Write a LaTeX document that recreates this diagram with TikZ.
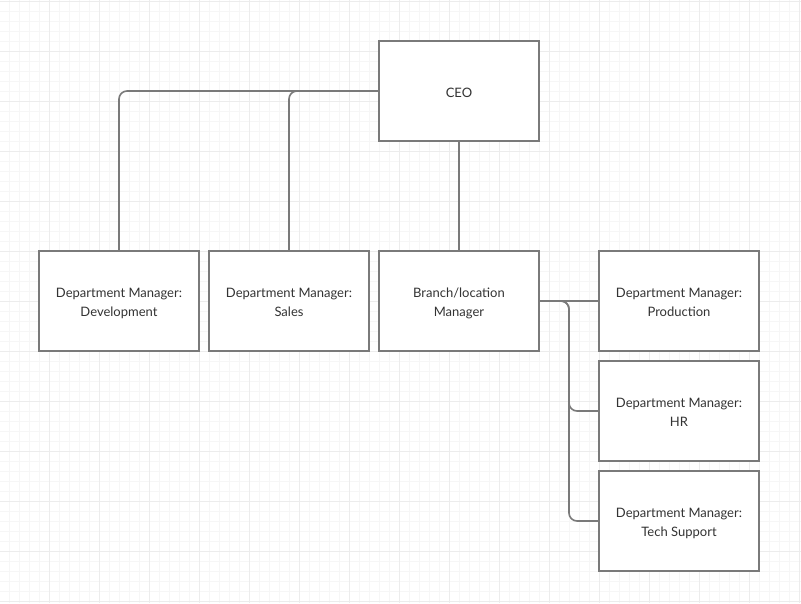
\documentclass[tikz,border=0pt]{standalone}
\usepackage{fontspec}
\setmainfont{Lato}
\definecolor{gridminor}{HTML}{F6F6F6}
\definecolor{gridmajor}{HTML}{ECECEC}
\definecolor{linec}{HTML}{7A7A7A}
\definecolor{textc}{HTML}{333333}
\newcommand\boxtext[1]{\raisebox{-2.5pt}[\height][\depth]{\begin{tabular}{@{}c@{}}#1\end{tabular}}}
\begin{document}
\begin{tikzpicture}[x=1pt,y=-1pt,
  box/.style={draw=linec,line width=1.6pt,fill=white,minimum width=160pt,minimum height=100pt,inner sep=0pt,font=\fontsize{13}{19}\selectfont,text=textc},
  conn/.style={draw=linec,line width=1.6pt,rounded corners=8pt}]
\useasboundingbox (0,0) rectangle (801,603);
\fill[white] (0,0) rectangle (801,603);
\foreach \i in {0,...,80} {\draw[gridminor,line width=0.8pt] (\i*10-1,0) -- (\i*10-1,603);}
\foreach \i in {0,...,60} {\draw[gridminor,line width=0.8pt] (0,\i*10+1) -- (801,\i*10+1);}
\foreach \i in {0,...,16} {\draw[gridmajor,line width=1pt] (\i*50-1,0) -- (\i*50-1,603);}
\foreach \i in {0,...,12} {\draw[gridmajor,line width=1pt] (0,\i*50+1) -- (801,\i*50+1);}
\node[box] (ceo) at (459,91) {\boxtext{CEO}};
\node[box] (dev) at (119,301) {\boxtext{Department Manager:\\Development}};
\node[box] (sales) at (289,301) {\boxtext{Department Manager:\\Sales}};
\node[box] (branch) at (459,301) {\boxtext{Branch/location\\Manager}};
\node[box] (prod) at (679,301) {\boxtext{Department Manager:\\Production}};
\node[box] (hr) at (679,411) {\boxtext{Department Manager:\\HR}};
\node[box] (tech) at (679,521) {\boxtext{Department Manager:\\Tech Support}};
\draw[conn] (ceo.west) -| (dev.north);
\draw[conn] (ceo.west) -| (sales.north);
\draw[conn] (ceo.south) -- (branch.north);
\draw[conn] (branch.east) -- (prod.west);
\draw[conn] (branch.east) -- (569,301) |- (hr.west);
\draw[conn] (branch.east) -- (569,301) |- (tech.west);
\end{tikzpicture}
\end{document}
